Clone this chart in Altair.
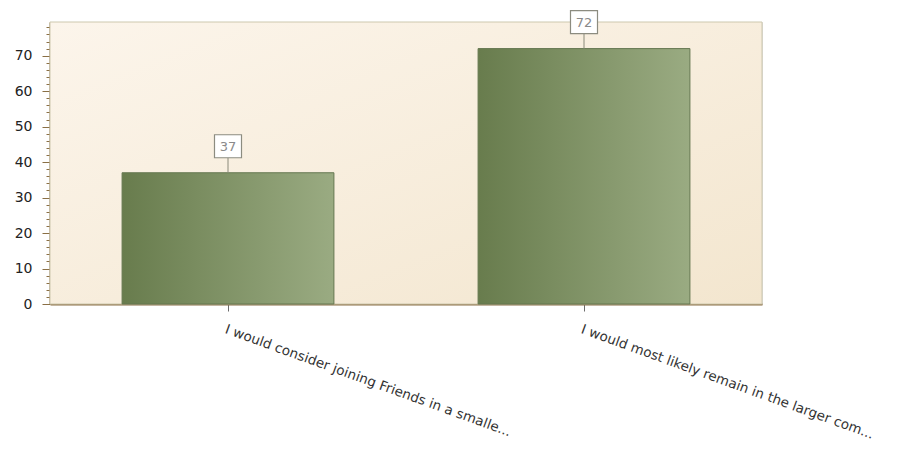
import altair as alt
import pandas as pd

categories = [
    "I would consider joining Friends in a smalle...",
    "I would most likely remain in the larger com...",
]
values = [37, 72]
y_ticks = list(range(0, 80, 2))

df = pd.DataFrame({"answer": categories, "count": values})

W, H = 712, 282
YMAX = 79.5

x_axis = alt.Axis(
    labelAngle=20,
    labelAlign="left",
    labelBaseline="top",
    labelFont="DejaVu Sans",
    labelFontSize=13.5,
    labelColor="#333333",
    labelPadding=11,
    labelLimit=0,
    tickSize=7,
    tickColor="#6b6b6b",
    domainColor="#8a6f45",
    domainWidth=2,
    grid=False,
)

y_axis = alt.Axis(
    values=y_ticks,
    labelExpr="datum.value % 10 === 0 ? datum.label : ''",
    labelFont="DejaVu Sans",
    labelFontSize=14,
    labelColor="#222222",
    labelPadding=10,
    labelOverlap=False,
    tickSize={"condition": {"test": "datum.value % 10 === 0", "value": 8}, "value": 4},
    tickColor="#8a6f45",
    domainColor="#8a6f45",
    domainWidth=2,
    grid=True,
    gridColor="#e3d8c0",
    gridWidth=1.5,
    gridOpacity={"condition": {"test": "datum.value % 10 === 0 && datum.value > 0", "value": 1}, "value": 0},
)

y_scale = alt.Scale(domain=[0, YMAX], nice=False, zero=True)
x_scale = alt.Scale(paddingInner=0.405, paddingOuter=0.2025)


def xe():
    return alt.X("answer:N", sort=categories, title=None, scale=x_scale, axis=x_axis)


def ye():
    return alt.Y("count:Q", title=None, scale=y_scale, axis=y_axis)


bg = alt.Chart(alt.Data(values=[{}])).mark_rect(
    fill=alt.Gradient(
        gradient="linear",
        stops=[
            alt.GradientStop(color="#fcf5eb", offset=0),
            alt.GradientStop(color="#f3e6cf", offset=1),
        ],
        x1=0, x2=1, y1=0, y2=1,
    ),
    stroke="#cdc8ae",
    strokeWidth=1,
).encode(
    x=alt.value(0), x2=alt.value("width"), y=alt.value(0), y2=alt.value("height")
)

bars = alt.Chart(df).mark_bar(
    fill=alt.Gradient(
        gradient="linear",
        stops=[
            alt.GradientStop(color="#687c4d", offset=0),
            alt.GradientStop(color="#9aab82", offset=1),
        ],
        x1=0, x2=1, y1=0, y2=0,
    ),
    stroke="#647750",
    strokeWidth=1,
).encode(x=xe(), y=ye())

connector = alt.Chart(df).mark_rule(color="#8a8a7a", strokeWidth=1, yOffset=-15).encode(
    x=xe(),
    y=ye(),
    y2=alt.Y2("count:Q"),
)

boxes = alt.Chart(df).mark_bar(
    size=27, fill="white", stroke="#8c8c80", strokeWidth=1.2, yOffset=-38, y2Offset=-15
).encode(
    x=xe(),
    y=ye(),
    y2=alt.Y2("count:Q"),
)

texts = alt.Chart(df).mark_text(
    dy=-26, baseline="middle", align="center", font="DejaVu Sans", fontSize=13, color="#8a8a8a"
).encode(
    x=xe(),
    y=ye(),
    text=alt.Text("count:Q"),
)

chart = alt.layer(bg, bars, connector, boxes, texts).properties(
    width=W,
    height=H,
    autosize=alt.AutoSizeParams(type="none"),
    padding={"left": 42, "top": 14, "right": 132, "bottom": 137},
).configure_view(stroke=None).configure(background="white")

chart.save("out.html", embed_options={"renderer": "svg", "actions": False})
